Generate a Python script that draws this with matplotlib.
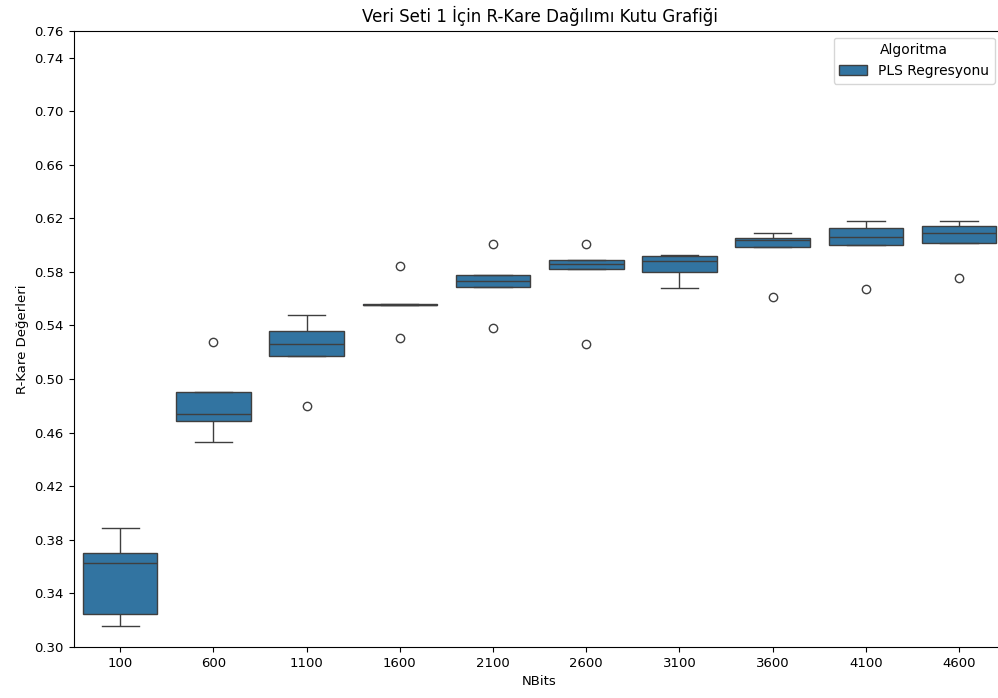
import numpy as np
import pandas as pd
import matplotlib
matplotlib.use("Agg")
import matplotlib.pyplot as plt
import seaborn as sns

# R-kare degerleri, her NBits icin 5 tekrar
nbits = [100, 600, 1100, 1600, 2100, 2600, 3100, 3600, 4100, 4600]
r2_100 = [0.3154, 0.3246, 0.363, 0.370, 0.3888]
r2_600 = [0.453, 0.469, 0.474, 0.4906, 0.5275]
r2_1100 = [0.480, 0.517, 0.526, 0.536, 0.548]
r2_1600 = [0.5307, 0.5554, 0.5556, 0.5558, 0.5845]
r2_2100 = [0.538, 0.5688, 0.5735, 0.5778, 0.601]
r2_2600 = [0.526, 0.582, 0.586, 0.5885, 0.601]
r2_3100 = [0.5683, 0.5799, 0.588, 0.5918, 0.5927]
r2_3600 = [0.5611, 0.5985, 0.6035, 0.6052, 0.609]
r2_4100 = [0.5673, 0.5997, 0.606, 0.6126, 0.6179]
r2_4600 = [0.5753, 0.6017, 0.609, 0.6142, 0.6183]
algorithm = "PLS Regresyonu"

all_r2 = [r2_100, r2_600, r2_1100, r2_1600, r2_2100,
          r2_2600, r2_3100, r2_3600, r2_4100, r2_4600]

rows = []
for nb, vals in zip(nbits, all_r2):
    for v in vals:
        rows.append({"NBits": nb, "R2": v, "Algoritma": algorithm})
df = pd.DataFrame(rows)

fig = plt.figure(figsize=(9.98, 6.98), dpi=100)
ax = fig.add_axes([0.0737, 0.073, 0.934, 0.883])

sns.boxplot(data=df, x="NBits", y="R2", hue="Algoritma", ax=ax)

ax.set_ylim(0.30, 0.76)
yt = list(np.arange(0.30, 0.745, 0.04)) + [0.76]
ax.set_yticks(yt)
ax.set_yticklabels([f"{t:.2f}" for t in yt])
ax.tick_params(labelsize=9.5)

ax.set_title("Veri Seti 1 İçin R-Kare Dağılımı Kutu Grafiği", fontsize=12)
ax.set_xlabel("NBits", fontsize=9.5)
ax.set_ylabel("R-Kare Değerleri", fontsize=9.5)
ax.legend(title="Algoritma", loc="upper right", bbox_to_anchor=(0.9955, 1.0),
          fontsize=10, title_fontsize=10)

fig.savefig("out.png", dpi=100)
